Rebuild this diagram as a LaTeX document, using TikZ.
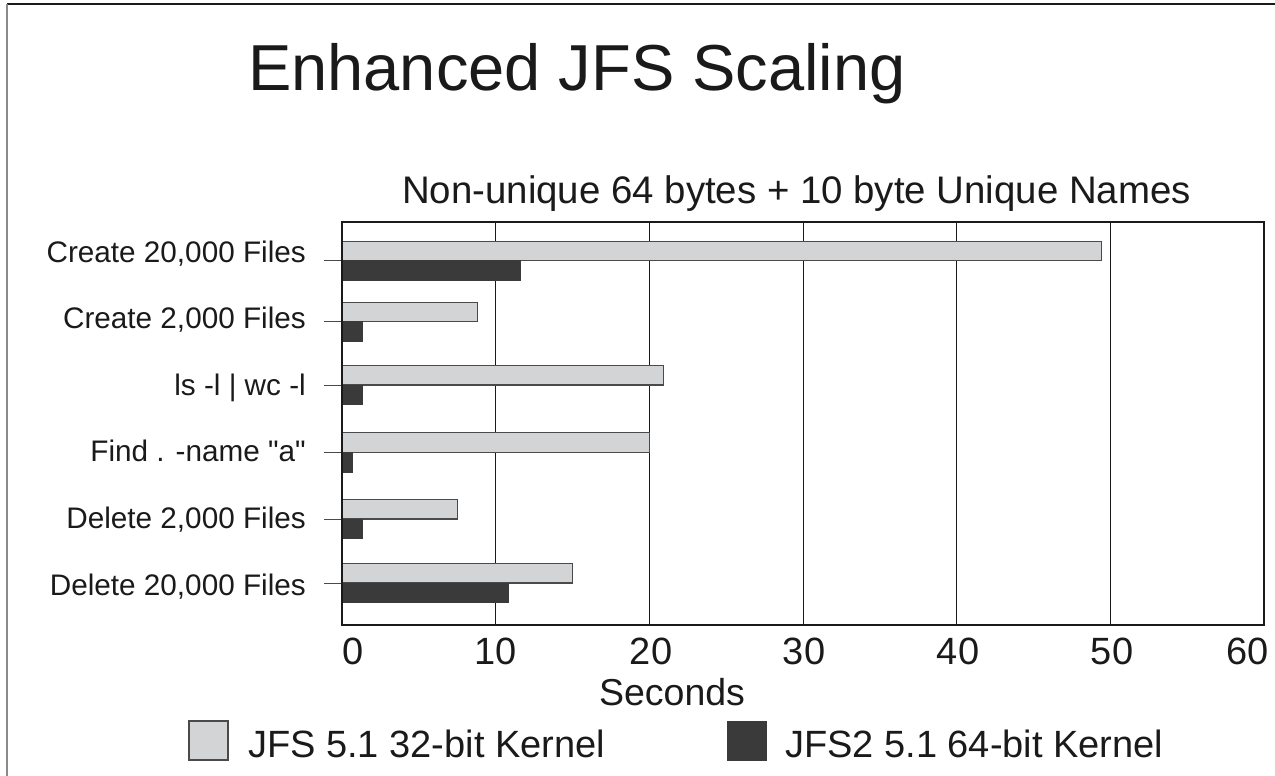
\documentclass[tikz,border=0pt]{standalone}
\usepackage{fontspec}
\setmainfont{Liberation Sans}[Ligatures=TeXOff]
\newcommand\fsz[1]{\fontsize{#1}{#1}\selectfont}
\definecolor{lightbar}{HTML}{D3D4D6}
\definecolor{barline}{HTML}{4A4A4A}
\definecolor{darkbar}{HTML}{3A3A3A}
\definecolor{inkc}{HTML}{1A1A1A}
\definecolor{leftrule}{HTML}{8A8A8A}
\tikzset{
  lbar/.style={fill=lightbar, draw=barline, line width=1.1pt},
  dbar/.style={fill=darkbar, draw=darkbar, line width=0.6pt},
  grid line/.style={draw=inkc, line width=1pt},
  tickline/.style={draw=barline, line width=1pt},
  catlabel/.style={anchor=base east, inner sep=0pt, text=inkc, font=\fsz{29.7}},
  numlabel/.style={anchor=base, inner sep=0pt, text=inkc, font=\fsz{38}},
  legtext/.style={anchor=base west, inner sep=0pt, text=inkc, font=\fsz{38}},
}
\begin{document}
\begin{tikzpicture}[x=1pt,y=-1pt]
\useasboundingbox (0,0) rectangle (1275,776);
% page border (top and left only)
\coordinate (tl) at (7,4.5);
\coordinate (tr) at (1275,4.5);
\coordinate (bl) at (7,776);
\draw[inkc, line width=2pt] (tl) -- (tr);
\draw[leftrule, line width=2pt] (tl) -- (bl);
% titles
\node[anchor=base west, inner sep=0pt, text=inkc, font=\fsz{65}] (title) at (248,90) {Enhanced JFS Scaling};
\node[anchor=base west, inner sep=0pt, text=inkc, font=\fsz{38.4}] (subtitle) at (402,203) {Non-unique 64 bytes + 10 byte Unique Names};
% grid
\foreach \v in {1,...,5} {
  \draw[grid line] ({342+15.367*10*\v},222) -- ({342+15.367*10*\v},625);
}
% ticks
\foreach \t in {260.7,321.7,385,452.3,519,583} {
  \draw[tickline] (324,\t) -- (342,\t);
}
% bars: tick y, light value, dark value
\foreach \t/\a/\b in {260.7/49.4/11.6, 321.7/8.8/1.3, 385/20.9/1.3, 452.3/20.0/0.7, 519/7.5/1.3, 583/15.0/10.8} {
  \draw[lbar] (342,{\t-19.5}) rectangle ({342+15.367*\a},\t);
  \draw[dbar] (342,\t) rectangle ({342+15.367*\b},{\t+19.5});
}
% frame
\draw[draw=inkc, line width=1.5pt] (342,222) rectangle (1264,625);
% category labels
\node[catlabel] (c1) at (306,262) {Create 20,000 Files};
\node[catlabel] (c2) at (306,328.6) {Create 2,000 Files};
\node[catlabel] (c3) at (306,395.2) {ls -l | wc -l};
\node[catlabel] (c4) at (306,461.8) {Find . -name "a"};
\node[catlabel] (c5) at (306,528.4) {Delete 2,000 Files};
\node[catlabel] (c6) at (306,595) {Delete 20,000 Files};
% axis numbers
\node[numlabel] (n0) at (353,664) {0};
\node[numlabel] (n1) at (496,664) {10};
\node[numlabel] (n2) at (651,664) {20};
\node[numlabel] (n3) at (804,664) {30};
\node[numlabel] (n4) at (958,664) {40};
\node[numlabel] (n5) at (1112,664) {50};
\node[numlabel] (n6) at (1247.5,664) {60};
\node[anchor=base, inner sep=0pt, text=inkc, font=\fsz{37.5}] (xlab) at (672,705) {Seconds};
% legend
\draw[lbar] (189,721) rectangle (228,760);
\node[legtext] (l1) at (248,757) {JFS 5.1 32-bit Kernel};
\draw[dbar] (727,721) rectangle (766,760);
\node[legtext] (l2) at (785,757) {JFS2 5.1 64-bit Kernel};
\end{tikzpicture}
\end{document}
